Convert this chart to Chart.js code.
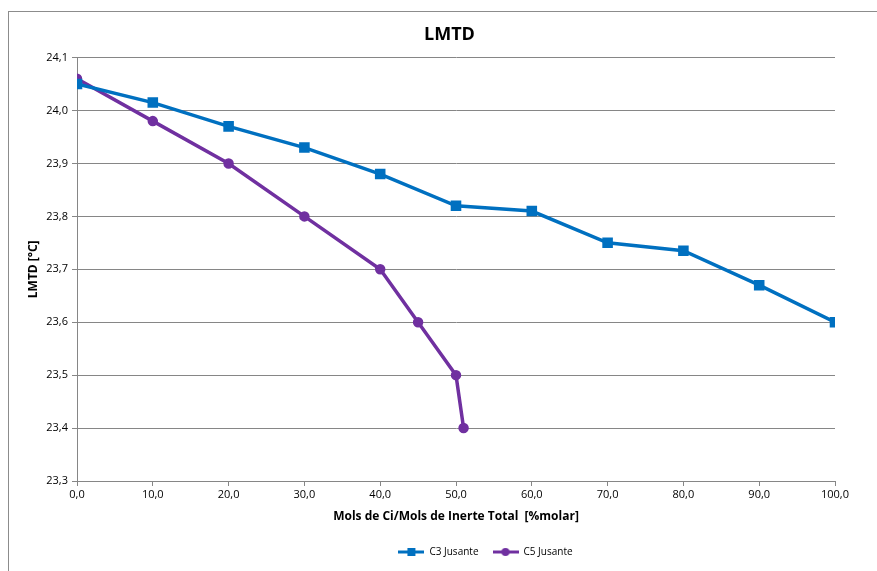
<!DOCTYPE html>
<html>
<head>
<meta charset="utf-8">
<script src="https://cdn.jsdelivr.net/npm/chart.js@4"></script>
<style>
  html, body { margin: 0; padding: 0; background: #fff; }
  #wrap { position: relative; width: 877px; height: 571px; overflow: hidden; }
  #frame { position: absolute; left: 8px; top: 11px; width: 900px; height: 600px; border: 1px solid #8c8c8c; box-sizing: border-box; }
  canvas { position: absolute; left: 0; top: 0; }
</style>
</head>
<body>
<div id="wrap">
  <div id="frame"></div>
  <canvas id="c" width="877" height="571"></canvas>
</div>
<script>
const chartTitle = "LMTD";
const xTitle = "Mols de Ci/Mols de Inerte Total  [%molar]";
const yTitle = "LMTD [°C]";
const c3Label = "C3 Jusante";
const c5Label = "C5 Jusante";
const c3X = [0, 10, 20, 30, 40, 50, 60, 70, 80, 90, 100];
const c3Y = [24.05, 24.015, 23.97, 23.93, 23.88, 23.82, 23.81, 23.75, 23.735, 23.67, 23.6];
const c5X = [0, 10, 20, 30, 40, 45, 50, 51];
const c5Y = [24.06, 23.98, 23.90, 23.80, 23.70, 23.60, 23.50, 23.40];
const yMin = 23.3, yMax = 24.1, yStep = 0.1;
const xMin = 0, xMax = 100, xStep = 10;

const C3_COLOR = "#0070C0";
const C5_COLOR = "#7030A0";
const GRID = "#868686";
const FONT = "'Open Sans', 'Liberation Sans', sans-serif";

function legendIcon(color, style) {
  const cv = document.createElement('canvas');
  cv.width = 26; cv.height = 10;
  const g = cv.getContext('2d');
  g.strokeStyle = color; g.lineWidth = 3;
  g.beginPath(); g.moveTo(0, 5); g.lineTo(26, 5); g.stroke();
  g.fillStyle = color;
  if (style === 'rect') { g.fillRect(9, 1, 8, 8); }
  else { g.beginPath(); g.arc(13, 5, 4, 0, Math.PI * 2); g.fill(); }
  return cv;
}

const fmt = v => Number(v).toFixed(1).replace('.', ',');

const shiftBoxes = {
  id: 'shiftBoxes',
  afterLayout(chart) {
    if (chart.legend) { chart.legend.left += 55; chart.legend.right += 55; }
    if (chart.titleBlock) { chart.titleBlock.left += 19; chart.titleBlock.right += 19; }
  }
};

new Chart(document.getElementById('c'), {
  type: 'line',
  data: {
    datasets: [
      {
        label: c3Label,
        data: c3X.map((x, i) => ({ x: x, y: c3Y[i] })),
        borderColor: C3_COLOR, backgroundColor: C3_COLOR,
        borderWidth: 3.5, pointStyle: 'rect', pointRadius: 5, pointHoverRadius: 5,
        tension: 0, fill: false
      },
      {
        label: c5Label,
        data: c5X.map((x, i) => ({ x: x, y: c5Y[i] })),
        borderColor: C5_COLOR, backgroundColor: C5_COLOR,
        borderWidth: 3.5, pointStyle: 'circle', pointRadius: 3.5, pointHoverRadius: 3.5,
        tension: 0, fill: false
      }
    ]
  },
  plugins: [shiftBoxes],
  options: {
    responsive: false,
    animation: false,
    events: [],
    layout: { padding: { left: 26, right: 42, top: 0, bottom: 4 } },
    plugins: {
      title: {
        display: true, text: chartTitle, color: '#000',
        font: { family: FONT, size: 18, weight: 'bold' },
        padding: { top: 24, bottom: 12 }
      },
      legend: {
        display: true, position: 'bottom',
        labels: {
          color: '#000', font: { family: FONT, size: 10 },
          usePointStyle: true, pointStyleWidth: 26, boxHeight: 10, padding: 14,
          generateLabels: (chart) => chart.data.datasets.map((d, i) => ({
            text: d.label,
            pointStyle: legendIcon(d.borderColor, d.pointStyle),
            fillStyle: d.borderColor, strokeStyle: d.borderColor,
            lineWidth: 0, datasetIndex: i, hidden: false,
            fontColor: '#000'
          }))
        }
      },
      tooltip: { enabled: false }
    },
    scales: {
      x: {
        type: 'linear', min: xMin, max: xMax,
        ticks: { stepSize: xStep, callback: fmt, color: '#000', font: { family: FONT, size: 11 }, padding: 2, maxRotation: 0 },
        grid: { drawOnChartArea: false, drawTicks: true, tickLength: 5, color: GRID },
        border: { color: GRID, width: 1 },
        title: { display: true, text: xTitle, color: '#000', font: { family: FONT, size: 12, weight: 'bold' }, padding: { top: 0, bottom: 9 } },
        afterFit: (s) => { s.height = 52; }
      },
      y: {
        type: 'linear', min: yMin, max: yMax,
        ticks: { stepSize: yStep, callback: fmt, color: '#000', font: { family: FONT, size: 11 }, padding: 4 },
        grid: { drawOnChartArea: true, drawTicks: true, tickLength: 5, color: GRID },
        border: { color: GRID, width: 1 },
        title: { display: true, text: yTitle, color: '#000', font: { family: FONT, size: 12, weight: 'bold' }, padding: { top: 0, bottom: 6 } },
        afterFit: (s) => { s.width = 51; }
      }
    }
  }
});
</script>
</body>
</html>
